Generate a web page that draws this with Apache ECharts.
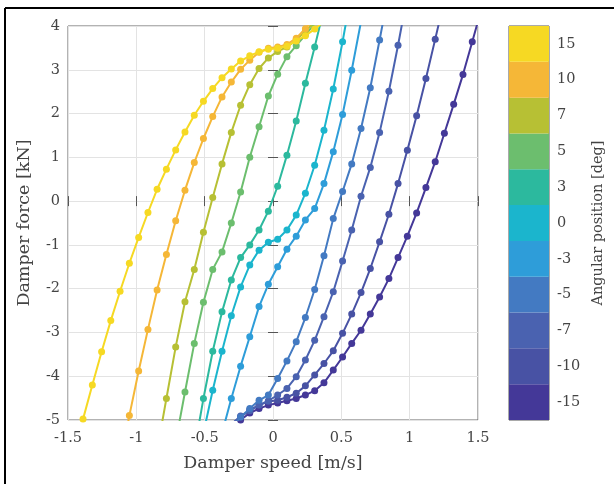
<!DOCTYPE html>
<html>
<head>
<meta charset="utf-8">
<script src="https://cdn.jsdelivr.net/npm/echarts@6/dist/echarts.min.js"></script>
<style>html,body{margin:0;padding:0;background:#fff;}#c{width:614px;height:484px;}</style>
</head>
<body>
<div id="c"></div>
<script>
// Speed grid (m/s), shared by all curves
const speed = [-1.458,-1.390,-1.322,-1.254,-1.187,-1.119,-1.051,-0.983,-0.915,-0.848,-0.780,-0.712,-0.644,-0.576,-0.509,-0.441,-0.373,-0.305,-0.237,-0.170,-0.102,-0.034,0.034,0.102,0.170,0.237,0.305,0.373,0.441,0.509,0.576,0.644,0.712,0.780,0.848,0.915,0.983,1.051,1.119,1.187,1.254,1.322,1.390,1.458,1.526];
const N = null;
// Damper force (kN) per angular position, aligned with speed
const f15  = [-5.8,-4.98,-4.20,-3.44,-2.73,-2.06,-1.42,-0.83,-0.26,0.27,0.73,1.17,1.58,1.96,2.28,2.57,2.82,3.02,3.20,3.32,3.41,3.47,3.49,3.54,3.66,3.78,3.93,4.1,N,N,N,N,N,N,N,N,N,N,N,N,N,N,N,N,N];
const f10  = [N,N,N,N,N,-6.0,-4.90,-3.88,-2.93,-2.03,-1.22,-0.45,0.25,0.88,1.43,1.93,2.38,2.72,3.01,3.22,3.40,3.49,3.52,3.58,3.72,3.94,4.2,N,N,N,N,N,N,N,N,N,N,N,N,N,N,N,N,N,N];
const f7   = [N,N,N,N,N,N,N,N,N,-5.7,-4.51,-3.33,-2.30,-1.56,-0.71,0.08,0.85,1.57,2.19,2.66,3.03,3.27,3.42,3.52,3.68,3.88,4.1,N,N,N,N,N,N,N,N,N,N,N,N,N,N,N,N,N,N];
const f5   = [N,N,N,N,N,N,N,N,N,N,N,-5.5,-4.36,-3.25,-2.31,-1.56,-1.16,-0.50,0.21,1.00,1.70,2.40,2.90,3.30,3.55,3.80,4.05,N,N,N,N,N,N,N,N,N,N,N,N,N,N,N,N,N,N];
const f3   = [N,N,N,N,N,N,N,N,N,N,N,N,N,-5.7,-4.51,-3.43,-2.53,-1.80,-1.29,-1.00,-0.66,-0.23,0.34,1.05,1.83,2.69,3.52,4.4,N,N,N,N,N,N,N,N,N,N,N,N,N,N,N,N,N];
const f0   = [N,N,N,N,N,N,N,N,N,N,N,N,N,N,-5.3,-4.32,-3.43,-2.62,-1.96,-1.46,-1.12,-0.94,-0.87,-0.66,-0.32,0.18,0.82,1.62,2.56,3.64,4.8,N,N,N,N,N,N,N,N,N,N,N,N,N,N];
const fm3  = [N,N,N,N,N,N,N,N,N,N,N,N,N,N,N,N,-5.3,-4.51,-3.77,-3.10,-2.41,-1.90,-1.50,-1.10,-0.80,-0.43,-0.17,0.40,1.13,1.98,2.99,4.1,N,N,N,N,N,N,N,N,N,N,N,N,N];
const fm5  = [N,N,N,N,N,N,N,N,N,N,N,N,N,N,N,N,N,-5.2,-4.93,-4.74,-4.55,-4.43,-4.05,-3.65,-3.21,-2.66,-2.02,-1.25,-0.40,0.22,0.85,1.66,2.59,3.68,4.8,N,N,N,N,N,N,N,N,N,N];
const fm7  = [N,N,N,N,N,N,N,N,N,N,N,N,N,N,N,N,N,-5.1,-4.91,-4.79,-4.66,-4.56,-4.43,-4.28,-4.01,-3.63,-3.18,-2.64,-2.07,-1.37,-0.66,0.11,0.77,1.57,2.51,3.56,4.7,N,N,N,N,N,N,N,N];
const fm10 = [N,N,N,N,N,N,N,N,N,N,N,N,N,N,N,N,N,-5.1,-4.93,-4.77,-4.66,-4.58,-4.55,-4.48,-4.39,-4.22,-3.97,-3.71,-3.42,-3.02,-2.58,-2.09,-1.54,-0.93,-0.30,0.40,1.16,1.95,2.80,3.70,4.6,N,N,N,N];
const fm15 = [N,N,N,N,N,N,N,N,N,N,N,N,N,N,N,N,N,-5.3,-5.0,-4.84,-4.74,-4.66,-4.61,-4.56,-4.51,-4.43,-4.33,-4.15,-3.86,-3.56,-3.25,-2.95,-2.58,-2.19,-1.77,-1.29,-0.80,-0.27,0.31,0.90,1.55,2.21,2.89,3.64,4.4];

const angleLabels = ['15','10','7','5','3','0','-3','-5','-7','-10','-15'];
const curves = [f15,f10,f7,f5,f3,f0,fm3,fm5,fm7,fm10,fm15];
const colors = ['#F6D923','#F5B737','#B7C034','#6CBE6E','#2CB99E','#1BB5CD','#2E9DD9','#437AC2','#4A62B0','#4852A4','#443898'];

const FONT = 'DejaVu Serif';
const TXT = '#444444';

const series = curves.map((f, k) => ({
  type: 'line',
  xAxisIndex: 0, yAxisIndex: 0,
  data: speed.map((x, i) => [x, f[i]]).filter(p => p[1] !== null),
  symbol: 'circle', symbolSize: 7,
  lineStyle: {width: 2, color: colors[k]},
  itemStyle: {color: colors[k]},
  clip: true, animation: false, z: 20 - k
}));

// colorbar as a bar chart on its own grid
const cbCats = angleLabels.slice().reverse();
series.push({
  type: 'bar', xAxisIndex: 2, yAxisIndex: 2,
  data: cbCats.map((c, i) => ({value: 1, itemStyle: {color: colors[colors.length - 1 - i]}})),
  barCategoryGap: '0%', barWidth: '100%', animation: false, silent: true
});

const chart = echarts.init(document.getElementById('c'), null, {renderer: 'canvas'});
chart.setOption({
  backgroundColor: '#fff',
  animation: false,
  grid: [
    {left: 68, top: 26, width: 410, height: 394, show: true, borderColor: '#666', borderWidth: 1, backgroundColor: 'transparent'},
    {left: 509, top: 26, width: 40, height: 394, show: true, borderColor: '#555', borderWidth: 1}
  ],
  xAxis: [
    {type: 'value', gridIndex: 0, min: -1.5, max: 1.5, interval: 0.5, position: 'bottom',
     name: 'Damper speed [m/s]', nameLocation: 'middle', nameGap: 34,
     nameTextStyle: {fontFamily: FONT, fontSize: 17.5, color: TXT},
     axisLine: {show: false}, axisTick: {show: true, inside: true, length: 5, lineStyle: {color: '#555'}},
     axisLabel: {fontFamily: FONT, fontSize: 14.5, color: TXT, margin: 11, formatter: v => String(+v.toFixed(1))},
     splitLine: {show: true, lineStyle: {color: '#e3e3e3', width: 1}}},
    {type: 'value', gridIndex: 0, min: -1.5, max: 1.5, interval: 0.5, position: 'top',
     axisLine: {show: false}, axisTick: {show: true, inside: true, length: 5, lineStyle: {color: '#555'}},
     axisLabel: {show: false}, splitLine: {show: false}},
    {type: 'value', gridIndex: 1, min: 0, max: 1, show: false}
  ],
  yAxis: [
    {type: 'value', gridIndex: 0, min: -5, max: 4, interval: 1, position: 'left',
     name: 'Damper force [kN]', nameLocation: 'middle', nameGap: 35, nameRotate: 90,
     nameTextStyle: {fontFamily: FONT, fontSize: 17.5, color: TXT},
     axisLine: {show: false}, axisTick: {show: true, inside: true, length: 5, lineStyle: {color: '#555'}},
     axisLabel: {fontFamily: FONT, fontSize: 14.5, color: TXT, margin: 8},
     splitLine: {show: true, lineStyle: {color: '#e3e3e3', width: 1}}},
    {type: 'value', gridIndex: 0, min: -5, max: 4, interval: 1, position: 'right',
     axisLine: {show: false}, axisTick: {show: true, inside: true, length: 5, lineStyle: {color: '#555'}},
     axisLabel: {show: false}, splitLine: {show: false}},
    {type: 'category', gridIndex: 1, data: cbCats, position: 'right',
     name: 'Angular position [deg]', nameLocation: 'middle', nameGap: 42, nameRotate: 90,
     nameTextStyle: {fontFamily: FONT, fontSize: 14.5, color: TXT},
     axisLine: {show: false}, axisTick: {show: false},
     axisLabel: {fontFamily: FONT, fontSize: 14.5, color: TXT, margin: 8},
     splitLine: {show: false}}
  ],
  series: series,
  graphic: [
    {type: 'line', shape: {x1: 5, y1: 8, x2: 5, y2: 484}, style: {stroke: '#000', lineWidth: 2}},
    {type: 'line', shape: {x1: 5, y1: 8, x2: 614, y2: 8}, style: {stroke: '#000', lineWidth: 2}}
  ]
});
</script>
</body>
</html>
